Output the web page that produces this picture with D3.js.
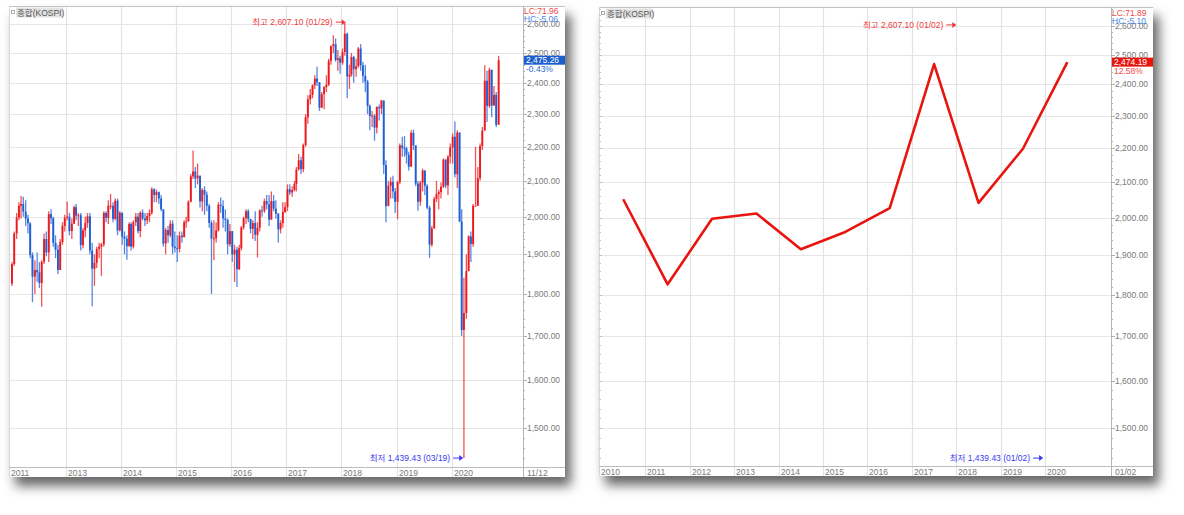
<!DOCTYPE html>
<meta charset="utf-8">
<style>
  body { margin: 0; background: #fff; }
  text { font-family: "Liberation Sans", "Noto Sans CJK KR", sans-serif; font-size: 8.5px; }
</style>
<body>
<script src="https://cdnjs.cloudflare.com/ajax/libs/d3/7.8.5/d3.min.js"></script>
<script>
// KOSPI, half-month candles (1st-15th, 16th-end), Jan 2012 .. Nov 12 2020
var firstOpen = 1826;
var close12 = [1875,1955, 1997,2030, 2035,2014, 1995,1982, 1898,1843, 1860,1854, 1827,1881, 1940,1905, 2007,1996, 1930,1912, 1860,1932, 1975,1997];
var high12  = [1880,1960, 2010,2040, 2057,2055, 2045,2005, 1985,1905, 1885,1905, 1880,1885, 1955,1960, 2015,2020, 2000,1950, 1925,1940, 1985,2005];
var low12   = [1820,1870, 1940,1990, 1995,2000, 1975,1955, 1890,1780, 1800,1830, 1815,1769, 1875,1895, 1880,1980, 1920,1890, 1850,1860, 1925,1960];
var close13 = [2000,1961, 1981,2026, 2003,2004, 1924,1963, 1983,2001, 1910,1863, 1878,1914, 1920,1926, 2010,1997, 2030,2030, 1994,2044, 1963,2011];
var high13  = [2042,2010, 1995,2030, 2035,2010, 2010,1970, 2000,2010, 2010,1930, 1900,1920, 1930,1930, 2015,2015, 2045,2063, 2040,2050, 2050,2015];
var low13   = [1990,1950, 1940,1980, 1990,1975, 1910,1915, 1945,1970, 1900,1770, 1820,1865, 1890,1845, 1920,1985, 1980,2020, 1985,1990, 1950,1960];
var close14 = [1946,1941, 1921,1980, 1920,1985, 2000,1961, 2011,1995, 1990,2002, 2010,2076, 2060,2068, 2050,2020, 1928,1964, 1950,1981, 1920,1916];
var high14  = [1975,1960, 1950,1985, 1985,1990, 2010,2010, 2015,2020, 2010,2010, 2020,2082, 2080,2075, 2070,2060, 2020,1970, 1975,1990, 1990,1960];
var low14   = [1925,1900, 1886,1925, 1910,1915, 1975,1955, 1945,1990, 1975,1980, 1985,2005, 2040,2040, 2035,2015, 1920,1900, 1930,1945, 1900,1905];
var close15 = [1914,1949, 1945,1985, 1987,2041, 2113,2127, 2107,2115, 2042,2074, 2061,2030, 1983,1941, 1942,1963, 2033,2029, 1995,1991, 1926,1961];
var high15  = [1950,1960, 1960,1990, 2000,2045, 2120,2189, 2140,2150, 2110,2080, 2085,2070, 2035,1990, 1990,1985, 2040,2053, 2045,2020, 1995,1980];
var low15   = [1880,1905, 1930,1945, 1970,1990, 2040,2105, 2080,2090, 2025,2015, 2005,2015, 1970,1800, 1885,1930, 1960,2010, 1970,1960, 1900,1920];
var close16 = [1900,1912, 1862,1916, 1971,1996, 2015,1994, 1967,1983, 1951,1970, 2017,2016, 2043,2034, 1992,2043, 2022,2008, 1966,1983, 2013,2026];
var high16  = [1960,1925, 1920,1925, 1975,2000, 2020,2020, 1990,1990, 2015,1985, 2020,2030, 2050,2060, 2060,2070, 2060,2045, 2010,1990, 2040,2040];
var low16   = [1880,1830, 1817,1860, 1910,1965, 1980,1985, 1955,1940, 1935,1892, 1960,2000, 2010,2020, 1975,1995, 2015,1995, 1931,1955, 1970,2010];
var close17 = [2076,2067, 2074,2091, 2133,2160, 2134,2205, 2290,2347, 2361,2392, 2414,2402, 2320,2363, 2386,2394, 2473,2523, 2530,2476, 2482,2467];
var high17  = [2090,2090, 2085,2100, 2140,2178, 2170,2210, 2300,2360, 2380,2395, 2425,2453, 2400,2370, 2390,2425, 2480,2525, 2561,2550, 2510,2490];
var low17   = [2015,2060, 2055,2070, 2070,2130, 2120,2125, 2200,2270, 2330,2350, 2380,2390, 2310,2320, 2315,2370, 2390,2460, 2500,2470, 2440,2430];
var close18 = [2503,2566, 2421,2427, 2486,2445, 2455,2515, 2458,2423, 2404,2326, 2294,2295, 2258,2322, 2318,2343, 2146,2029, 2086,2097, 2070,2041];
var high18  = [2515,2607, 2570,2460, 2500,2490, 2480,2520, 2530,2470, 2460,2410, 2330,2310, 2300,2325, 2330,2345, 2340,2160, 2100,2110, 2115,2080];
var low18   = [2460,2490, 2350,2380, 2420,2400, 2420,2450, 2440,2400, 2370,2300, 2250,2260, 2218,2240, 2280,2300, 2120,1985, 2030,2050, 2050,2010];
var close19 = [2097,2204, 2196,2195, 2176,2141, 2242,2204, 2092,2041, 2095,2130, 2086,2025, 1925,1968, 2049,2063, 2068,2083, 2162,2087, 2170,2198];
var high19  = [2100,2210, 2230,2232, 2200,2185, 2250,2252, 2200,2100, 2100,2135, 2130,2090, 2030,1975, 2055,2100, 2075,2095, 2165,2160, 2175,2210];
var low19   = [1993,2090, 2170,2170, 2150,2130, 2145,2190, 2085,2016, 2030,2070, 2060,2020, 1891,1920, 1970,2040, 2020,2050, 2080,2080, 2060,2150];
var close20 = [2230,2119, 2243,1987, 1714,1754, 1857,1947, 1927,2030, 2030,2108, 2202,2249, 2407,2326, 2443,2327, 2361,2267, 2475.26];
var high20  = [2240,2277, 2250,2200, 2020,1840, 1900,1950, 1960,2035, 2200,2140, 2210,2260, 2458,2440, 2450,2440, 2390,2370, 2490];
var low20   = [2150,2110, 2080,1985, 1700,1439.43, 1740,1860, 1880,1920, 2030,2060, 2100,2190, 2250,2275, 2320,2290, 2330,2260, 2270];

// yearly closes, right panel
var years = [2010, 2011, 2012, 2013, 2014, 2015, 2016, 2017, 2018, 2019, 2020];
var yearCloses = [2051.00, 1825.74, 1997.05, 2011.34, 1915.59, 1961.31, 2026.46, 2467.49, 2041.04, 2197.67, 2474.19];

var priceTicks = [1500, 1600, 1700, 1800, 1900, 2000, 2100, 2200, 2300, 2400, 2500, 2600];
var dailyYearTicks = [2013, 2014, 2015, 2016, 2017, 2018, 2019, 2020];
var yearlyYearTicks = [2011, 2012, 2013, 2014, 2015, 2016, 2017, 2018, 2019, 2020];

var closes = [].concat(close12, close13, close14, close15, close16, close17, close18, close19, close20);
var highs = [].concat(high12, high13, high14, high15, high16, high17, high18, high19, high20);
var lows = [].concat(low12, low13, low14, low15, low16, low17, low18, low19, low20);

var candles = closes.map(function(c, i) {
  var o = i ? closes[i - 1] : firstOpen;
  return {
    date: new Date(2012, Math.floor(i / 2), i % 2 ? 23 : 8),
    open: o, close: c,
    high: Math.max(highs[i], o, c), low: Math.min(lows[i], o, c)
  };
});

var RED = "#ec1a1e", BLUE = "#1f5fd6";
var fmt = d3.format(",.2f");

var svg = d3.select("body").append("svg").attr("width", 1184).attr("height", 515);
var flt = svg.append("defs").append("filter").attr("id", "shadow")
  .attr("x", "-5%").attr("y", "-5%").attr("width", "115%").attr("height", "120%");
flt.append("feDropShadow").attr("dx", 6).attr("dy", 9).attr("stdDeviation", 6)
  .attr("flood-color", "#000").attr("flood-opacity", 0.6);

function panel(p) {
  var g = svg.append("g");
  g.append("rect").attr("x", p.left).attr("y", p.top)
    .attr("width", p.right - p.left).attr("height", p.bottom - p.top)
    .attr("fill", "#fff").attr("filter", "url(#shadow)");

  g.selectAll(null).data(priceTicks).join("line")
    .attr("x1", p.left + 1).attr("x2", p.axisX)
    .attr("y1", function(d) { return Math.round(p.y(d)) + 0.5; })
    .attr("y2", function(d) { return Math.round(p.y(d)) + 0.5; })
    .attr("stroke", "#e6e6e6").attr("stroke-width", 1.2);

  g.selectAll(null).data(p.xTicks).join("line")
    .attr("x1", function(d) { return Math.round(p.x(d)) + 0.5; })
    .attr("x2", function(d) { return Math.round(p.x(d)) + 0.5; })
    .attr("y1", p.top + 1).attr("y2", p.bottom)
    .attr("stroke", "#e3e3e3").attr("stroke-width", 1.2);

  // borders
  g.append("line").attr("x1", p.left).attr("x2", p.right).attr("y1", p.top + 0.5).attr("y2", p.top + 0.5)
    .attr("stroke", "#c4c4c4");
  g.append("line").attr("x1", p.left + 0.5).attr("x2", p.left + 0.5).attr("y1", p.top).attr("y2", p.bottom)
    .attr("stroke", "#d8d8d8");
  g.append("line").attr("x1", p.left).attr("x2", p.right).attr("y1", p.axisY + 0.5).attr("y2", p.axisY + 0.5)
    .attr("stroke", "#bdbdbd");
  g.append("line").attr("x1", p.axisX + 0.5).attr("x2", p.axisX + 0.5).attr("y1", p.top).attr("y2", p.bottom)
    .attr("stroke", "#b5b5b5");

  // y axis ticks and labels
  var minor = d3.range(1440, 2661, 20).filter(function(v) { return p.y(v) > p.top + 2 && p.y(v) < p.axisY - 2; });
  g.selectAll(null).data(minor).join("line")
    .attr("x1", p.axisX).attr("x2", function(d) { return p.axisX + (d % 100 ? 2 : 4); })
    .attr("y1", function(d) { return Math.round(p.y(d)) + 0.5; })
    .attr("y2", function(d) { return Math.round(p.y(d)) + 0.5; })
    .attr("stroke", "#b0b0b0");
  if (p.leftTicks) {
    g.selectAll(null).data(minor).join("line")
      .attr("x1", p.left).attr("x2", function(d) { return p.left + (d % 100 ? 2 : 3); })
      .attr("y1", function(d) { return Math.round(p.y(d)) + 0.5; })
      .attr("y2", function(d) { return Math.round(p.y(d)) + 0.5; })
      .attr("stroke", "#c0c0c0");
  }
  g.selectAll(null).data(priceTicks).join("text")
    .attr("x", p.axisX + 4).attr("y", function(d) { return p.y(d) + 3; })
    .attr("fill", "#7a7a7a").text(fmt);

  // x labels
  g.append("text").attr("x", p.left + 2).attr("y", p.axisY + 9).attr("fill", "#7a7a7a").text(p.firstLabel);
  g.selectAll(null).data(p.xTicks).join("text")
    .attr("x", function(d) { return Math.round(p.x(d)) + 2; }).attr("y", p.axisY + 9)
    .attr("fill", "#7a7a7a").text(p.xLabel);
  g.append("text").attr("x", p.axisX + 4).attr("y", p.axisY + 9).attr("fill", "#7a7a7a").text(p.endLabel);

  // title box
  g.append("rect").attr("x", p.left + 2.5).attr("y", p.top + 4.5).attr("width", 3).attr("height", 3)
    .attr("fill", "#fff").attr("stroke", "#999").attr("stroke-width", 0.8);
  g.append("rect").attr("x", p.left + 7).attr("y", p.top + 1.5).attr("width", 47).attr("height", 10)
    .attr("fill", "#e2e2e2");
  g.append("text").attr("x", p.left + 8).attr("y", p.top + 9.5).attr("fill", "#555").text("종합(KOSPI)");

  // LC / HC
  g.append("text").attr("x", p.axisX + 1).attr("y", p.top + p.lcY).attr("fill", "#f04848").text(p.lc);
  g.append("text").attr("x", p.axisX + 1).attr("y", p.top + p.lcY + 7.5).attr("fill", "#4a86e8").text(p.hc);

  // last value tag
  var ly = p.y(p.last);
  g.append("rect").attr("x", p.axisX + 1).attr("y", ly - 4.5).attr("width", p.right - p.axisX - 1).attr("height", 9)
    .attr("fill", p.tagColor);
  g.append("text").attr("x", p.axisX + 3).attr("y", ly + 3).attr("fill", "#fff").text(fmt(p.last));
  g.append("text").attr("x", p.axisX + 3).attr("y", ly + 12).attr("fill", p.pctColor).text(p.pct);

  // clip for marks
  var id = "clip" + p.left;
  svg.select("defs").append("clipPath").attr("id", id).append("rect")
    .attr("x", p.left + 1).attr("y", p.top + 1).attr("width", p.axisX - p.left - 1).attr("height", p.axisY - p.top - 1);
  g.marks = g.append("g").attr("clip-path", "url(#" + id + ")");
  return g;
}

function arrowNote(g, tipX, tipY, label, color) {
  g.append("line").attr("x1", tipX - 10).attr("x2", tipX - 3).attr("y1", tipY).attr("y2", tipY)
    .attr("stroke", color).attr("stroke-width", 1);
  g.append("path").attr("d", "M" + tipX + "," + tipY + "l-4,-3l0,6z").attr("fill", color);
  g.append("text").attr("x", tipX - 13).attr("y", tipY + 3).attr("text-anchor", "end")
    .attr("fill", color).text(label);
}

// ---------- left panel: daily ----------
var xL = d3.scaleTime().domain([new Date(2011, 11, 26), new Date(2021, 3, 12)]).range([10, 522]);
var yL = d3.scaleLog().domain([1422, 2665]).range([467, 6]);
var gL = panel({
  left: 9, top: 6, right: 565, bottom: 477, axisX: 523, axisY: 467,
  x: function(d) { return xL(new Date(d, 0, 1)); }, y: yL,
  xTicks: dailyYearTicks, xLabel: function(d) { return d; },
  firstLabel: "2011", endLabel: "11/12",
  lc: "LC:71.96", hc: "HC:-5.06", lcY: 8,
  last: closes[closes.length - 1], tagColor: "#1b5fcf", pct: "-0.43%", pctColor: "#2a6ad8"
});

var cw = 1.9;
function col(d) { return d.close >= d.open ? RED : BLUE; }
gL.marks.selectAll(".wick").data(candles).join("line")
  .attr("x1", function(d) { return xL(d.date); }).attr("x2", function(d) { return xL(d.date); })
  .attr("y1", function(d) { return yL(d.high); }).attr("y2", function(d) { return yL(d.low); })
  .attr("stroke", col).attr("stroke-opacity", 0.75).attr("stroke-width", 1.3);
gL.marks.selectAll(".body").data(candles).join("rect")
  .attr("x", function(d) { return xL(d.date) - cw / 2; }).attr("width", cw)
  .attr("y", function(d) { return yL(Math.max(d.open, d.close)); })
  .attr("height", function(d) { return Math.max(1, Math.abs(yL(d.open) - yL(d.close))); })
  .attr("fill", col);

var hiC = candles.reduce(function(a, b) { return b.high > a.high ? b : a; });
var loC = candles.reduce(function(a, b) { return b.low < a.low ? b : a; });
arrowNote(gL, xL(new Date(2018, 0, 29)), yL(hiC.high), "최고 2,607.10 (01/29)", "#f03a3a");
arrowNote(gL, xL(new Date(2020, 2, 18)), yL(loC.low), "최저 1,439.43 (03/19)", "#3a3af0");

// ---------- right panel: yearly ----------
var xR = d3.scaleLinear().domain([2010, 2021.46]).range([601, 1110]);
var yR = d3.scaleLog().domain([1424, 2668]).range([466, 7]);
var gR = panel({
  left: 599, top: 7, right: 1153, bottom: 476, axisX: 1111, axisY: 466,
  x: xR, y: yR, leftTicks: true,
  xTicks: yearlyYearTicks, xLabel: function(d) { return d; },
  firstLabel: "2010", endLabel: "01/02",
  lc: "LC:71.89", hc: "HC:-5.10", lcY: 9,
  last: yearCloses[yearCloses.length - 1], tagColor: "#e8150f", pct: "12.58%", pctColor: "#f04848"
});

var yearData = years.map(function(y, i) { return { year: y, value: yearCloses[i] }; });
gR.marks.append("path").datum(yearData)
  .attr("fill", "none").attr("stroke", "#e8150f").attr("stroke-width", 2.6)
  .attr("stroke-linejoin", "round")
  .attr("d", d3.line().x(function(d) { return xR(d.year + 0.5); }).y(function(d) { return yR(d.value); }));

arrowNote(gR, xR(2018), yR(hiC.high) + 1, "최고 2,607.10 (01/02)", "#f03a3a");
arrowNote(gR, xR(2020) - 2, yR(loC.low), "최저 1,439.43 (01/02)", "#3a3af0");
</script>
</body>
